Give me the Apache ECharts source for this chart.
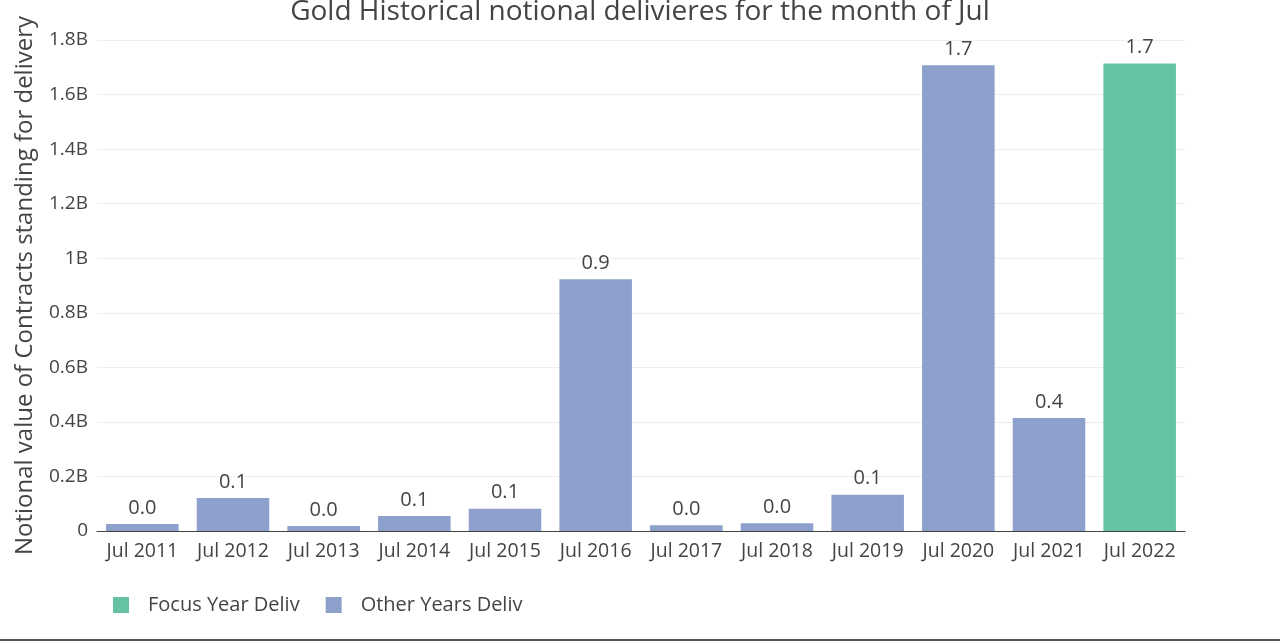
<!DOCTYPE html>
<html><head><meta charset="utf-8">
<script src="https://cdn.jsdelivr.net/npm/echarts@6/dist/echarts.min.js"></script>
<style>html,body{margin:0;padding:0;background:#fff}#c{width:1280px;height:641px}</style>
</head><body><div id="c"></div>
<script>
const categories = ['Jul 2011','Jul 2012','Jul 2013','Jul 2014','Jul 2015','Jul 2016','Jul 2017','Jul 2018','Jul 2019','Jul 2020','Jul 2021','Jul 2022'];
// values in billions
const otherYears = [0.026, 0.121, 0.018, 0.055, 0.082, 0.923, 0.021, 0.028, 0.133, 1.707, 0.414, null];
const focusYear  = [null, null, null, null, null, null, null, null, null, null, null, 1.714];
const yTicks = { min: 0, max: 1.8, interval: 0.2 };

const font = 'Open Sans';
const chart = echarts.init(document.getElementById('c'), null, {renderer: 'canvas'});
const labelCfg = {
  show: true, position: 'top', distance: 6,
  color: '#444', fontSize: 20, fontFamily: font,
  formatter: p => (p.value == null ? '' : p.value.toFixed(1))
};
chart.setOption({
  animation: false,
  textStyle: { fontFamily: font },
  title: {
    text: 'Gold Historical notional delivieres for the month of Jul',
    left: 'center', top: -7,
    textStyle: { fontSize: 28, fontWeight: 'normal', color: '#444', fontFamily: font }
  },
  legend: {
    left: 108, top: 590, itemWidth: 16, itemHeight: 16, itemGap: 26,
    icon: 'rect',
    textStyle: { fontSize: 20, color: '#444', fontFamily: font, padding: [0, 0, 0, 14] },
    data: ['Focus Year Deliv', 'Other Years Deliv']
  },
  grid: { left: 97, right: 95, top: 40, bottom: 110, containLabel: false },
  xAxis: {
    type: 'category', data: categories,
    axisLine: { show: true, lineStyle: { color: '#444', width: 1 } },
    axisTick: { show: false },
    axisLabel: { interval: 0, hideOverlap: false, fontSize: 19.5, color: '#444', margin: 10, fontFamily: font }
  },
  yAxis: {
    type: 'value', min: yTicks.min, max: yTicks.max, interval: yTicks.interval,
    name: 'Notional value of Contracts standing for delivery',
    nameLocation: 'middle', nameGap: 60, nameRotate: 90,
    nameTextStyle: { fontSize: 24, color: '#444', fontFamily: font },
    axisLine: { show: false }, axisTick: { show: false },
    splitLine: { lineStyle: { color: '#eee', width: 1 } },
    axisLabel: {
      fontSize: 19, color: '#444', margin: 9, fontFamily: font,
      formatter: v => v === 0 ? '0' : (+v.toFixed(1)) + 'B'
    }
  },
  series: [
    { name: 'Focus Year Deliv', type: 'bar', stack: 'a', data: focusYear,
      itemStyle: { color: '#66c2a5' }, barCategoryGap: '20%', label: labelCfg },
    { name: 'Other Years Deliv', type: 'bar', stack: 'a', data: otherYears,
      itemStyle: { color: '#8da0cb' }, barCategoryGap: '20%', label: labelCfg }
  ],
  graphic: [{
    type: 'rect', left: 0, top: 639, shape: { width: 1280, height: 2 },
    style: { fill: '#555' }, silent: true
  }]
});
</script></body></html>
